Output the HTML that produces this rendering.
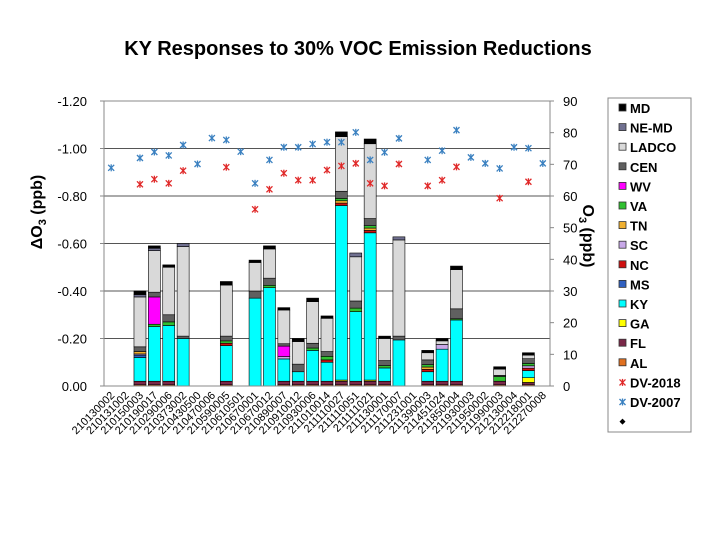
<!DOCTYPE html>
<html><head><meta charset="utf-8"><style>
html,body{margin:0;padding:0;background:#fff;}
svg{display:block;font-family:"Liberation Sans",sans-serif;}
</style></head><body>
<svg id="chart" width="720" height="540">
<text x="358" y="55" text-anchor="middle" font-size="20" font-weight="bold">KY Responses to 30% VOC Emission Reductions</text>
<g id="grid"></g>
<g id="bars"></g>
<g id="pts"></g>
<rect x="104" y="101" width="446" height="285" fill="none" stroke="#888" stroke-width="1"/>
<g id="axes"></g>
<text transform="translate(42,212) rotate(-90)" text-anchor="middle" font-size="16" font-weight="bold">ΔO<tspan font-size="11" dy="4">3</tspan><tspan dy="-4"> (ppb)</tspan></text>
<text transform="translate(583,236) rotate(90)" text-anchor="middle" font-size="16" font-weight="bold">O<tspan font-size="11" dy="4">3</tspan><tspan dy="-4"> (ppb)</tspan></text>
<g id="legend"></g>
</svg>
<script>
const categories=["210130002","210131002","210150003","210190017","210290006","210373002","210430500","210470006","210590005","210610501","210670001","210670012","210890007","210910012","210930006","211010014","211110027","211110051","211111021","211130001","211170007","211231001","211390003","211451024","211850004","211930003","211950002","211990003","212130004","212218001","212270008"];
const AL=[0,0,.005,.005,.005,0,0,0,.005,0,0,0,.005,.005,.005,.005,.005,.005,.005,.005,0,0,.005,.005,.005,0,0,.005,0,.005,0];
const FL=[0,0,.015,.015,.015,0,0,0,.015,0,0,0,.015,.015,.015,.015,.015,.015,.015,.015,0,0,.015,.015,.015,0,0,.015,0,.01,0];
const GA=[0,0,0,0,0,0,0,0,0,0,0,0,0,0,0,0,.005,0,.005,0,0,0,0,0,0,0,0,0,0,.02,0];
const KY=[0,0,.10,.23,.235,.20,0,0,.15,0,.37,.414,.094,.04,.13,.08,.735,.293,.62,.056,.194,0,.04,.135,.258,0,0,0,0,.03,0];
const MS=[0,0,.01,0,0,0,0,0,0,0,0,0,0,0,0,0,0,0,0,0,0,0,0,0,0,0,0,0,0,0,0];
const NC=[0,0,0,0,0,0,0,0,.01,0,0,0,0,0,0,.01,.01,0,.01,0,0,0,.01,0,0,0,0,0,0,.01,0];
const SC=[0,0,.005,0,0,0,0,0,0,0,0,0,.01,0,0,0,0,0,0,0,0,0,0,.02,0,0,0,0,0,.01,0];
const TN=[0,0,.01,0,0,0,0,0,0,0,0,0,0,0,0,0,.01,0,.01,0,0,0,.01,0,0,0,0,0,0,0,0];
const VA=[0,0,0,.01,.015,0,0,0,.01,0,0,.01,0,0,.01,.015,.01,.015,.01,.01,0,0,.01,0,.005,0,0,.02,0,.01,0];
const WV=[0,0,0,.115,0,0,0,0,0,0,0,0,.044,0,0,0,0,0,0,0,0,0,0,0,0,0,0,0,0,0,0];
const CEN=[0,0,.02,.02,.03,.01,0,0,.02,0,.03,.03,.01,.032,.02,.02,.03,.03,.03,.021,.016,0,.02,0,.042,0,0,.005,0,.02,0];
const LADCO=[0,0,.21,.175,.2,.377,0,0,.215,0,.12,.123,.142,.095,.175,.14,.23,.186,.315,.093,.405,0,.03,.015,.165,0,0,.026,0,.015,0];
const NEMD=[0,0,.01,.01,0,.013,0,0,0,0,0,0,0,0,0,0,0,.016,0,0,.013,0,0,0,0,0,0,0,0,0,0];
const MD=[0,0,.015,.01,.01,0,0,0,.015,0,.01,.013,.01,.013,.015,.01,.02,0,.02,.01,0,0,.01,.01,.015,0,0,.01,0,.01,0];
const dv2018=[null,null,63.7,65.3,64.0,68.0,null,null,69.1,null,55.8,62.1,67.2,65.0,65.0,68.2,69.5,70.3,64.0,63.2,70.1,null,63.2,65.0,69.2,null,null,59.3,null,64.5,null];
const dv2007=[68.9,null,72.0,73.9,72.8,76.1,70.1,78.3,77.7,74.0,64.0,71.4,75.4,75.4,76.4,77.0,77.0,80.1,71.4,73.8,78.2,null,71.4,74.3,80.8,72.2,70.3,68.7,75.4,75.1,70.3];
const leftTicks=["0.00","-0.20","-0.40","-0.60","-0.80","-1.00","-1.20"];
const rightTicks=["0","10","20","30","40","50","60","70","80","90"];

const NS="http://www.w3.org/2000/svg";
const X0=104,X1=550,Y0=386,Y1=101;
const slot=(X1-X0)/categories.length;
function xs(i){return X0+slot*(i+0.5);}
function yl(v){return Y0-(v/1.2)*(Y0-Y1);}
function yr(v){return Y0-(v/90)*(Y0-Y1);}
function mk(tag,a,p){const e=document.createElementNS(NS,tag);for(const k in a)e.setAttribute(k,a[k]);p.appendChild(e);return e;}
const grid=document.getElementById('grid'),axes=document.getElementById('axes'),barsG=document.getElementById('bars'),ptsG=document.getElementById('pts'),leg=document.getElementById('legend');
leftTicks.forEach((t,i)=>{const v=i*0.2;const y=yl(v);
 if(i>0&&i<6){const l=mk('line',{x1:X0,x2:X1,y1:y,y2:y,stroke:'#555','stroke-width':1},grid);
 
 }
 const tk=mk('line',{x1:X0-4,x2:X0,y1:y,y2:y,stroke:'#888'},axes);
 
 
 const tx=mk('text',{x:87,y:y+5,'text-anchor':'end','font-size':13},axes);tx.textContent=t;
 
 });
rightTicks.forEach((t,i)=>{const y=yr(i*10);
 const tk=mk('line',{x1:X1,x2:X1+4,y1:y,y2:y,stroke:'#888'},axes);
 
 
 const tx=mk('text',{x:563,y:y+5,'text-anchor':'start','font-size':13},axes);tx.textContent=t;
 
 });
categories.forEach((c,i)=>{const x=xs(i)+4;
 const tx=mk('text',{transform:`translate(${x},396) rotate(-45)`,'text-anchor':'end','font-size':11},axes);tx.textContent=c;
 
 });
const series=[["AL",AL,"#e07020"],["FL",FL,"#7a2848"],["GA",GA,"#ffff00"],["KY",KY,"#00ffff"],["MS",MS,"#3060c0"],["NC",NC,"#d01010"],["SC",SC,"#c8a8e8"],["TN",TN,"#f0b030"],["VA",VA,"#30c030"],["WV",WV,"#ff00ff"],["CEN",CEN,"#606060"],["LADCO",LADCO,"#d9d9d9"],["NE-MD",NEMD,"#707090"],["MD",MD,"#000000"]];
const bw=12;
categories.forEach((c,i)=>{let acc=0;
 series.forEach(s=>{const v=s[1][i];if(!v)return;
  const r=mk('rect',{x:xs(i)-bw/2,y:yl(acc+v),width:bw,height:yl(acc)-yl(acc+v),fill:s[2],stroke:'#000','stroke-width':0.6},barsG);
  
  
  acc+=v;});});
function star(x,y,col,p){const g=mk('g',{stroke:col,'stroke-width':1.3},p);
 mk('line',{x1:x-3,y1:y-3,x2:x+3,y2:y+3},g);mk('line',{x1:x-3,y1:y+3,x2:x+3,y2:y-3},g);mk('line',{x1:x,y1:y-3.5,x2:x,y2:y+3.5},g);return g;}
dv2018.forEach((v,i)=>{if(v==null)return;const g=star(xs(i),yr(v),'#e02828',ptsG);
 
 });
dv2007.forEach((v,i)=>{if(v==null)return;const g=star(xs(i),yr(v),'#3a80c0',ptsG);
 
 });
const lb=mk('rect',{x:608,y:98,width:83,height:334,fill:'#fff',stroke:'#888'},leg);


const legItems=series.slice().reverse().map(s=>[s[0],s[2],'box']).concat([["DV-2018","#e02828","star"],["DV-2007","#3a80c0","star"],["","#000","dot"]]);
legItems.forEach((it,k)=>{const y=108+k*19.6;
 const g=mk('g',{},leg);
 
 
 if(it[2]==='box')mk('rect',{x:619,y:y-4,width:7,height:7,fill:it[1],stroke:'#333','stroke-width':0.8},g);
 else if(it[2]==='star')star(622.5,y,it[1],g);
 else mk('path',{d:`M622.5 ${y-3}L625.5 ${y}L622.5 ${y+3}L619.5 ${y}Z`,fill:'#000'},g);
 const t=mk('text',{x:630,y:y+5,'font-size':13,'font-weight':'bold'},g);t.textContent=it[0];});
</script>
</body></html>
